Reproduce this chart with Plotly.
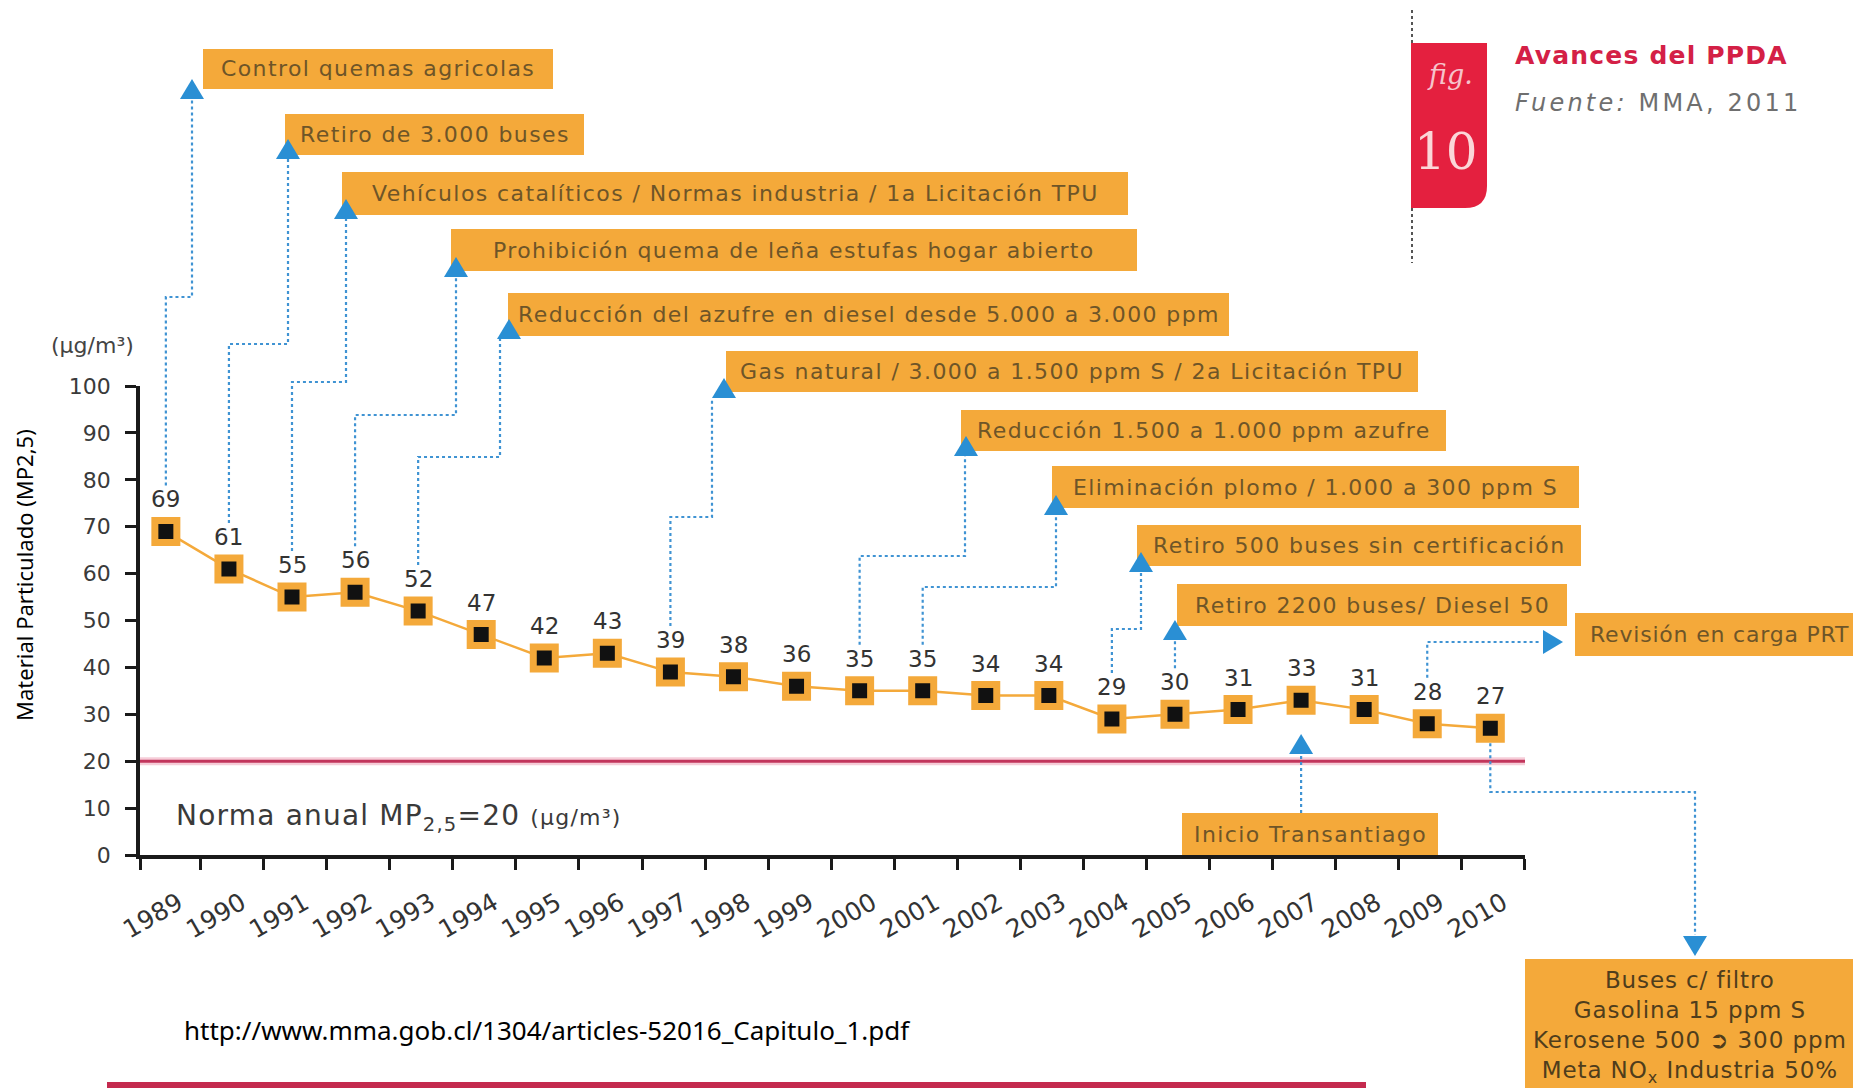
import plotly.graph_objects as go

# ── data ─────────────────────────────────────────────────────────────────────
anios = list(range(1989, 2011))
mp25 = [69, 61, 55, 56, 52, 47, 42, 43, 39, 38, 36, 35, 35, 34, 34,
        29, 30, 31, 33, 31, 28, 27]
norma_anual = 20
ticks_y = [0, 10, 20, 30, 40, 50, 60, 70, 80, 90, 100]

medida_anio = [1989, 1990, 1991, 1992, 1993, 1997, 2000, 2001, 2004, 2005,
               2007, 2009, 2010]
medida_texto = [
    "Control quemas agricolas",
    "Retiro de 3.000 buses",
    "Vehículos catalíticos / Normas industria / 1a Licitación TPU",
    "Prohibición quema de leña estufas hogar abierto",
    "Reducción del azufre en diesel desde 5.000 a 3.000 ppm",
    "Gas natural / 3.000 a 1.500 ppm S / 2a Licitación TPU",
    "Reducción 1.500 a 1.000 ppm azufre",
    "Eliminación plomo / 1.000 a 300 ppm S",
    "Retiro 500 buses sin certificación",
    "Retiro 2200 buses/ Diesel 50",
    "Inicio Transantiago",
    "Revisión en carga PRT",
    "Buses c/ filtro<br>Gasolina 15 ppm S<br>Kerosene 500 ➲ 300 ppm<br>"
    "Meta NO<sub>x</sub> Industria 50%",
]

# ── page geometry (pixels on the 1861x1088 page) ────────────────────────────
W, H = 1861, 1088
BODY = 8                       # default <body> margin of the written page
FIG_W, FIG_H = W - BODY, H - BODY
PLOT_L, PLOT_R = 140, 1525
PLOT_T, PLOT_B = 386, 855
X_MIN, X_MAX = 1988.59, 2010.55
Y_MIN, Y_MAX = 0, 100

NARANJA = "#F4A93A"
AZUL = "#2a8fd4"
AZUL_PUNTOS = "#3f93d3"
TEXTO_CAJA = "#6E5528"
ROJO = "#E4203F"
FONT = "DejaVu Sans"


def xpx(anio):
    return PLOT_L + (anio - X_MIN) * (PLOT_R - PLOT_L) / (X_MAX - X_MIN)


def ypx(v):
    return PLOT_B - (v - Y_MIN) * (PLOT_B - PLOT_T) / (Y_MAX - Y_MIN)


def fx(px):
    return (px - BODY) / FIG_W


def fy(py):
    return 1 - (py - BODY) / FIG_H


def path(puntos, cerrar=False):
    s = " ".join(("M" if i == 0 else "L") + f" {fx(x):.5f},{fy(y):.5f}"
                 for i, (x, y) in enumerate(puntos))
    return s + (" Z" if cerrar else "")


def espaciado(texto, px):
    return f"<span style='letter-spacing:{px}px'>{texto}</span>"


# callout layout: box (x0, y0, x1, y1), start ("arriba"/"abajo"/px),
# route waypoints (None = x of the year), arrow (cx, cy, direction)
GUIAS = [
    dict(caja=(203, 49, 553, 89), desde="arriba",
         ruta=[(None, 297), (192, 297), (192, 99)], flecha=(192, 89, "up")),
    dict(caja=(285, 114, 584, 155), desde="arriba",
         ruta=[(None, 344), (288, 344), (288, 158)], flecha=(288, 149, "up")),
    dict(caja=(342, 172, 1128, 215), desde="arriba",
         ruta=[(None, 382), (346, 382), (346, 218)], flecha=(346, 209, "up")),
    dict(caja=(451, 229, 1137, 271), desde="arriba",
         ruta=[(None, 415), (456, 415), (456, 277)], flecha=(456, 267, "up")),
    dict(caja=(508, 293, 1229, 336), desde="arriba",
         ruta=[(None, 457), (500, 457), (500, 339)], flecha=(509, 329, "up")),
    dict(caja=(726, 351, 1418, 392), desde="arriba",
         ruta=[(None, 517), (712, 517), (712, 398)], flecha=(724, 388, "up")),
    dict(caja=(961, 410, 1446, 451), desde="arriba",
         ruta=[(None, 556), (965, 556), (965, 456)], flecha=(966, 446, "up")),
    dict(caja=(1052, 466, 1579, 508), desde="arriba",
         ruta=[(None, 587), (1056, 587), (1056, 515)], flecha=(1056, 505, "up")),
    dict(caja=(1137, 525, 1581, 566), desde="arriba",
         ruta=[(None, 629), (1141, 629), (1141, 572)], flecha=(1141, 562, "up")),
    dict(caja=(1177, 584, 1567, 626), desde="arriba",
         ruta=[(None, 640)], flecha=(None, 630, "up")),
    dict(caja=(1182, 813, 1438, 855), desde=813,
         ruta=[(None, 753)], flecha=(None, 744, "up")),
    dict(caja=(1575, 613, 1880, 656), desde="arriba",
         ruta=[(None, 642), (1540, 642)], flecha=(1553, 642, "right"),
         texto_x=1588),
    dict(caja=(1525, 959, 1870, 1110), desde="abajo",
         ruta=[(None, 792), (1695, 792), (1695, 935)], flecha=(1695, 946, "down"),
         texto_y=1027),
]


def triangulo(cx, cy, d, w=24, h=20):
    if d == "up":
        pts = [(cx, cy - h / 2), (cx + w / 2, cy + h / 2), (cx - w / 2, cy + h / 2)]
    elif d == "down":
        pts = [(cx, cy + h / 2), (cx - w / 2, cy - h / 2), (cx + w / 2, cy - h / 2)]
    else:
        pts = [(cx + h / 2, cy), (cx - h / 2, cy - w / 2), (cx - h / 2, cy + w / 2)]
    return path(pts, cerrar=True)


# ── figure ──────────────────────────────────────────────────────────────────
fig = go.Figure()

fig.add_trace(go.Scatter(
    x=anios, y=mp25,
    mode="lines+markers",
    line=dict(color=NARANJA, width=2.5),
    marker=dict(symbol="square", size=22, color="#111111",
                line=dict(color=NARANJA, width=7)),
    cliponaxis=False,
    showlegend=False,
    hoverinfo="skip",
))

shapes = []
annotations = []

# value labels above each point
for a, v in zip(anios, mp25):
    annotations.append(dict(
        x=a, y=v, xref="x", yref="y", text=str(v), showarrow=False,
        xanchor="center", yanchor="middle", yshift=32,
        font=dict(family=FONT, size=23, color="#333333")))

# norm line (soft pink halo + crimson line)
for color, width in (("#f6cdd8", 8), ("#C2365C", 3)):
    shapes.append(dict(type="line", xref="paper", yref="y",
                       x0=fx(PLOT_L), x1=fx(PLOT_R),
                       y0=norma_anual, y1=norma_anual,
                       line=dict(color=color, width=width), layer="below"))

# callouts
val_por_anio = dict(zip(anios, mp25))
for anio, texto, g in zip(medida_anio, medida_texto, GUIAS):
    ax = xpx(anio)
    v = val_por_anio[anio]
    if g["desde"] == "arriba":
        y0 = ypx(v) - 46
    elif g["desde"] == "abajo":
        y0 = ypx(v) + 15
    else:
        y0 = g["desde"]
    pts = [(ax, y0)] + [(ax if x is None else x, y) for x, y in g["ruta"]]
    shapes.append(dict(type="path", xref="paper", yref="paper", path=path(pts),
                       line=dict(color=AZUL_PUNTOS, width=2.2, dash="dot"),
                       layer="below"))

    x0, yb0, x1, yb1 = g["caja"]
    shapes.append(dict(type="rect", xref="paper", yref="paper",
                       x0=fx(x0), x1=fx(x1), y0=fy(yb1), y1=fy(yb0),
                       fillcolor=NARANJA, line=dict(width=0), layer="above"))

    cx, cy, d = g["flecha"]
    cx = ax if cx is None else cx
    shapes.append(dict(type="path", xref="paper", yref="paper",
                       path=triangulo(cx, cy, d), fillcolor=AZUL,
                       line=dict(width=0), layer="above"))

    if "texto_x" in g:
        annotations.append(dict(
            xref="paper", yref="paper", x=fx(g["texto_x"]), y=fy((yb0 + yb1) / 2),
            xanchor="left", yanchor="middle", text=espaciado(texto, 0.8),
            showarrow=False, font=dict(family=FONT, size=22, color=TEXTO_CAJA)))
    elif "<br>" in texto:
        annotations.append(dict(
            xref="paper", yref="paper", x=fx(1690), y=fy(g["texto_y"]),
            xanchor="center", yanchor="middle", text=espaciado(texto, 0.9),
            showarrow=False, align="center",
            font=dict(family=FONT, size=23, color="#4f3d1c")))
    else:
        annotations.append(dict(
            xref="paper", yref="paper", x=fx((x0 + x1) / 2), y=fy((yb0 + yb1) / 2),
            xanchor="center", yanchor="middle", text=espaciado(texto, 1.4),
            showarrow=False, font=dict(family=FONT, size=22, color=TEXTO_CAJA)))

# fig. 10 tab
shapes.append(dict(type="line", xref="paper", yref="paper",
                   x0=fx(1412), x1=fx(1412), y0=fy(10), y1=fy(263),
                   line=dict(color="#555555", width=2, dash="dot"), layer="below"))
tx0, tx1, ty0, ty1, r = 1411, 1487, 43, 208, 22
shapes.append(dict(
    type="path", xref="paper", yref="paper",
    path=(f"M {fx(tx0):.5f},{fy(ty0):.5f} L {fx(tx1):.5f},{fy(ty0):.5f} "
          f"L {fx(tx1):.5f},{fy(ty1 - r):.5f} "
          f"Q {fx(tx1):.5f},{fy(ty1):.5f} {fx(tx1 - r):.5f},{fy(ty1):.5f} "
          f"L {fx(tx0):.5f},{fy(ty1):.5f} Z"),
    fillcolor=ROJO, line=dict(width=0), layer="above"))

# bottom crimson band
shapes.append(dict(type="rect", xref="paper", yref="paper",
                   x0=fx(107), x1=fx(1366), y0=fy(1100), y1=fy(1082),
                   fillcolor="#C42A4E", line=dict(width=0), layer="above"))


def nota(x, y, texto, size, color, family=FONT, xanchor="center", angle=0):
    return dict(xref="paper", yref="paper", x=fx(x), y=fy(y), text=texto,
                xanchor=xanchor, yanchor="middle", textangle=angle,
                showarrow=False, font=dict(family=family, size=size, color=color))


annotations += [
    nota(1450, 74, "<i>fig.</i>", 27, "#f6c3cb", family="DejaVu Serif"),
    nota(1446, 152, "10", 50, "#fbd6d8", family="DejaVu Serif"),
    nota(1513, 56, "<b>" + espaciado("Avances del PPDA", 1.2) + "</b>", 25,
         "#D42046", xanchor="left"),
    nota(1513, 103, espaciado("<i>Fuente:</i> MMA, 2011", 3.2), 24, "#6f6f6f",
         xanchor="left"),
    nota(24, 575, "Material Particulado (MP2,5)", 22, "#000000",
         family="Noto Sans", angle=-90),
    nota(92, 345, "(µg/m³)", 22, "#444444"),
    nota(174, 817, espaciado("Norma anual MP<sub>2,5</sub>=20 "
                             "<span style='font-size:22px'>(µg/m³)</span>", 1.2),
         28, "#3a3a3a", xanchor="left"),
    nota(547, 1030, "http://www.mma.gob.cl/1304/articles-52016_Capitulo_1.pdf",
         26, "#000000", family="Noto Sans"),
]

# minor ticks sit on the year boundaries, labels sit just right of the years
bordes = [X_MIN + 0.002] + [a + 0.55 for a in anios[:-1]] + [X_MAX - 0.002]

fig.update_layout(
    width=FIG_W, height=FIG_H,
    margin=dict(l=0, r=0, t=0, b=0, autoexpand=False),
    paper_bgcolor="white", plot_bgcolor="white",
    showlegend=False,
    shapes=shapes,
    annotations=annotations,
    xaxis=dict(
        domain=[fx(PLOT_L), fx(PLOT_R)], range=[X_MIN, X_MAX],
        automargin=False,
        showgrid=False, zeroline=False,
        showline=True, linecolor="#1a1a1a", linewidth=3.5,
        tickmode="array", tickvals=[a + 0.2 for a in anios],
        ticktext=[str(a) for a in anios],
        ticks="", tickangle=-30, ticklabelstandoff=20,
        tickfont=dict(family=FONT, size=25, color="#333333"),
        minor=dict(tickmode="array", tickvals=bordes, ticks="outside",
                   ticklen=11, tickwidth=3, tickcolor="#1a1a1a", showgrid=False),
        fixedrange=True,
    ),
    yaxis=dict(
        domain=[fy(PLOT_B), fy(PLOT_T)], range=[Y_MIN, Y_MAX],
        automargin=False,
        showgrid=False, zeroline=False,
        showline=True, linecolor="#1a1a1a", linewidth=3.5,
        tickmode="array", tickvals=ticks_y,
        ticks="outside", ticklen=11, tickwidth=3, tickcolor="#1a1a1a",
        ticklabelstandoff=10,
        tickfont=dict(family=FONT, size=22, color="#3a3a3a"),
        fixedrange=True,
    ),
)

fig.write_html("out.html", config={"displayModeBar": False})
